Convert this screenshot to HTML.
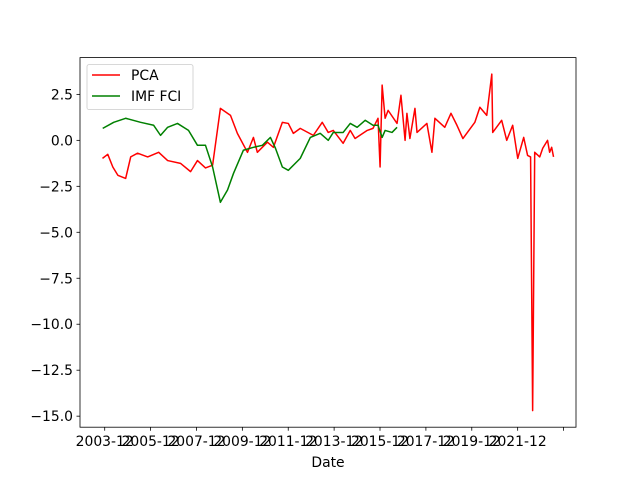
<!DOCTYPE html>
<html><head><meta charset="utf-8"><style>body{margin:0;background:#fff}svg{display:block;font-family:"DejaVu Sans","Liberation Sans",sans-serif}</style></head>
<body>
<svg id="chart" width="640" height="480" viewBox="0 0 640 480" xmlns="http://www.w3.org/2000/svg">
<rect width="640" height="480" fill="#fff"/>
<g id="plot"></g>
</svg>
<script>
const pcaDates=[2003.82,2004.05,2004.27,2004.49,2004.83,2005.05,2005.35,2005.79,2006.27,2006.66,2007.22,2007.66,2007.96,2008.31,2008.62,2008.96,2009.40,2009.70,2010.14,2010.40,2010.57,2011.01,2011.27,2011.66,2011.92,2012.14,2012.44,2013.01,2013.40,2013.66,2013.88,2014.31,2014.62,2014.83,2015.36,2015.61,2015.83,2015.92,2016.01,2016.14,2016.27,2016.66,2016.83,2017.01,2017.09,2017.22,2017.44,2017.53,2017.96,2018.18,2018.31,2018.74,2019.01,2019.27,2019.53,2020.05,2020.27,2020.57,2020.79,2020.83,2021.22,2021.44,2021.70,2021.92,2022.18,2022.35,2022.48,2022.57,2022.66,2022.88,2023.01,2023.22,2023.31,2023.40,2023.48];
const pcaValues=[-0.98,-0.76,-1.45,-1.9,-2.07,-0.9,-0.7,-0.9,-0.65,-1.1,-1.25,-1.7,-1.1,-1.5,-1.35,1.74,1.36,0.38,-0.65,0.16,-0.65,-0.1,-0.38,0.98,0.92,0.38,0.65,0.27,0.98,0.43,0.54,-0.16,0.54,0.1,0.54,0.65,1.2,-1.45,3.0,1.2,1.63,0.92,2.45,0,1.47,0.1,1.74,0.43,0.92,-0.65,1.2,0.71,1.47,0.82,0.1,0.98,1.8,1.36,3.6,0.43,1.09,0,0.82,-0.98,0.16,-0.82,-0.9,-14.7,-0.65,-0.9,-0.43,0,-0.65,-0.38,-0.9];
const imfDates=[2003.83,2004.31,2004.83,2005.48,2006.05,2006.35,2006.66,2007.09,2007.57,2007.96,2008.31,2008.62,2008.96,2009.27,2009.53,2009.96,2010.40,2010.79,2011.14,2011.36,2011.66,2011.92,2012.44,2012.88,2013.31,2013.66,2013.88,2014.31,2014.62,2014.92,2015.27,2015.61,2015.83,2016.01,2016.14,2016.44,2016.66];
const imfValues=[0.65,0.98,1.2,0.98,0.82,0.27,0.71,0.92,0.54,-0.27,-0.27,-1.45,-3.37,-2.7,-1.8,-0.54,-0.38,-0.27,0.16,-0.43,-1.45,-1.63,-0.98,0.16,0.38,0,0.43,0.43,0.92,0.71,1.09,0.82,0.82,0.16,0.54,0.43,0.71];
const xTickYears=[2003.917,2005.917,2007.917,2009.917,2011.917,2013.917,2015.917,2017.917,2019.917,2021.917,2023.917];
const xTickLabels=["2003-12","2005-12","2007-12","2009-12","2011-12","2013-12","2015-12","2017-12","2019-12","2021-12",""];
const yTicks=[2.5,0,-2.5,-5,-7.5,-10,-12.5,-15];
const yTickLabels=["2.5","0.0","−2.5","−5.0","−7.5","−10.0","−12.5","−15.0"];

const L=80,R=576,T=57.6,B=427.2,xmin=2002.84,xmax=2024.46,ymin=-15.6,ymax=4.5;
const FS=13.9;
const sx=v=>L+(v-xmin)/(xmax-xmin)*(R-L);
const sy=v=>B-(v-ymin)/(ymax-ymin)*(B-T);
const NS="http://www.w3.org/2000/svg";
const g=document.getElementById('plot');
function mk(t,a,p){const e=document.createElementNS(NS,t);for(const k in a)e.setAttribute(k,a[k]);(p||g).appendChild(e);return e;}

function series(d,v,color,name){
  const pts=d.map((x,i)=>sx(x).toFixed(2)+','+sy(v[i]).toFixed(2)).join(' ');
  const pl=mk('polyline',{points:pts,fill:'none',stroke:color,'stroke-width':1.5,'stroke-linejoin':'round'});
  
  
}
series(pcaDates,pcaValues,'#ff0000','pca-line');
series(imfDates,imfValues,'#008000','imf-fci-line');

const frame=mk('rect',{x:L,y:T,width:R-L,height:B-T,fill:'none',stroke:'#000','stroke-width':0.8});



xTickYears.forEach((yr,i)=>{
  const x=sx(yr);
  const tk=mk('line',{x1:x,x2:x,y1:B,y2:B+3.5,stroke:'#000','stroke-width':0.8});
  
  
  const t=mk('text',{x:x,y:B+19,'text-anchor':'middle','font-size':FS,fill:'#000'});
  t.textContent=xTickLabels[i];
  
  
});
yTicks.forEach((v,i)=>{
  const y=sy(v);
  const tk=mk('line',{x1:L-3.5,x2:L,y1:y,y2:y,stroke:'#000','stroke-width':0.8});
  
  
  const t=mk('text',{x:L-7,y:y+5,'text-anchor':'end','font-size':FS,fill:'#000'});
  t.textContent=yTickLabels[i];
  
  
});
const xt=mk('text',{x:(L+R)/2,y:467,'text-anchor':'middle','font-size':FS,fill:'#000'});
xt.textContent='Date';



const lg=mk('g',{});


mk('rect',{x:87,y:64.6,width:106,height:45,rx:2,fill:'#fff','fill-opacity':0.8,stroke:'#ccc','stroke-width':0.8},lg);
[['PCA','#ff0000',75],['IMF FCI','#008000',96]].forEach(([n,c,y])=>{
  const e=mk('g',{},lg);
  
  
  mk('line',{x1:92,x2:120,y1:y,y2:y,stroke:c,'stroke-width':1.5},e);
  const t=mk('text',{x:131,y:y+5,'font-size':FS,fill:'#000'},e);
  t.textContent=n;
});
</script>
</body></html>
